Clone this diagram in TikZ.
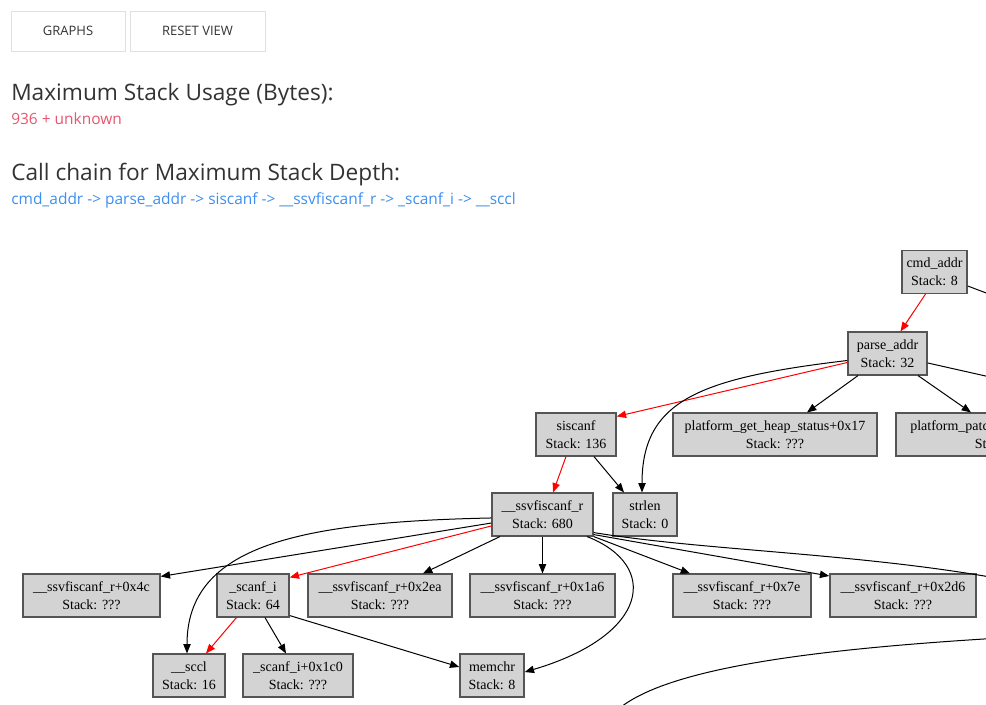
\documentclass[tikz,border=0pt]{standalone}
\usepackage{fontspec}
\usepackage{tikz}
\usetikzlibrary{arrows.meta, positioning, calc}
\setmainfont{Liberation Serif}
\newfontfamily\uifont{Open Sans}
\definecolor{cgFill}{HTML}{D3D3D3}
\definecolor{cgLine}{HTML}{555555}
\definecolor{cgHot}{HTML}{FF0000}
\definecolor{cgText}{HTML}{333333}
\definecolor{cgUnknown}{HTML}{E8556D}
\definecolor{cgChain}{HTML}{3D8EF0}
\definecolor{cgBtn}{HTML}{E0E0E0}
\tikzset{
  fn/.style={
    draw=cgLine, fill=cgFill, line width=1.1pt, align=center,
    minimum height=32pt, inner xsep=2pt, inner ysep=2pt,
    font=\fontsize{10.5}{13.5}\selectfont
  },
  btn/.style={draw=cgBtn, line width=0.75pt, minimum height=30pt,
    font=\uifont\fontsize{9.75}{12}\selectfont, text=cgText},
  heading/.style={anchor=base west, inner sep=0pt, text=cgText,
    font=\uifont\fontsize{17}{20}\selectfont},
  subline/.style={anchor=base west, inner sep=0pt,
    font=\uifont\fontsize{11.6}{14}\selectfont},
  call/.style={-{Triangle[length=7pt, width=5.5pt]}, line width=0.75pt, black},
  hotcall/.style={call, cgHot}
}

\begin{document}
\begin{tikzpicture}[x=0.75pt, y=-0.75pt]
  \useasboundingbox (0,0) rectangle (986,704);
  \clip (0,0) rectangle (986,704);

  % page header
  \node[btn, minimum width=85.5pt] (graphsBtn) at (68,31) {GRAPHS};
  \node[btn, minimum width=101.25pt] (resetBtn) at (197.5,31) {RESET VIEW};
  \node[heading] (usageHead) at (11,100) {Maximum Stack Usage (Bytes):};
  \node[subline, text=cgUnknown] (usageVal) at (11,124) {936 + unknown};
  \node[heading] (chainHead) at (11,180) {Call chain for Maximum Stack Depth:};
  \node[subline, text=cgChain] (chainVal) at (11,204)
    {cmd\_addr -> parse\_addr -> siscanf -> \_\_ssvfiscanf\_r -> \_scanf\_i -> \_\_sccl};

  % call graph
  \node[fn, minimum width=48.75pt] (cmdAddr) at (934.5,272) {cmd\_addr\\Stack: 8};
  \node[fn, minimum width=59.25pt] (parseAddr) at (887.5,353.5) {parse\_addr\\Stack: 32};
  \node[fn, minimum width=60pt] (siscanf) at (576,434.5) {siscanf\\Stack: 136};
  \node[fn, minimum width=153pt] (heapStat) at (775,434.5) {platform\_get\_heap\_status+0x17\\Stack: ???};
  \node[fn, minimum width=162pt] (patchFn) at (1004,434.5) {platform\_patch\_init\_table+0x1a4\\Stack: ???};
  \node[fn, minimum width=48pt] (strlenFn) at (645,514.5) {strlen\\Stack: 0};
  \node[fn, minimum width=75.75pt] (ssvf) at (542.5,514.5) {\_\_ssvfiscanf\_r\\Stack: 680};
  \node[fn, minimum width=54pt] (scanfI) at (253,595.5) {\_scanf\_i\\Stack: 64};
  \foreach \nm/\cx/\bw/\off in {
    x4c/91.5/102.75/0x4c,
    x2ea/380/108/0x2ea,
    x1a6/542.5/108.75/0x1a6,
    x7e/742/103.5/0x7e,
    x2d6/903/109.5/0x2d6}{
    \node[fn, minimum width=\bw pt] (\nm) at (\cx,595.5) {\_\_ssvfiscanf\_r+\off\\Stack: ???};
  }
  \node[fn, minimum width=54pt] (sccl) at (189,675.5) {\_\_sccl\\Stack: 16};
  \node[fn, minimum width=82.5pt] (scanfX) at (298,675.5) {\_scanf\_i+0x1c0\\Stack: ???};
  \node[fn, minimum width=48pt] (memchr) at (492,675.5) {memchr\\Stack: 8};

  % ends outside the view
  \coordinate (cmdOut) at (1010,302);
  \coordinate (parseOut) at (1010,381.5);
  \coordinate (ssvfOut) at (996,578);
  \coordinate (farIn) at (1000,638);
  \coordinate (farOut) at (615,712);

  \draw[hotcall] ([xshift=-6.75pt]cmdAddr.south) -- ([xshift=9.75pt]parseAddr.north);
  \draw[line width=0.75pt] ([yshift=-10.5pt]cmdAddr.east) -- (cmdOut);
  \draw[line width=0.75pt] ([yshift=-7.1pt]parseAddr.east) -- (parseOut);
  \draw[hotcall] ([yshift=-6.75pt]parseAddr.west) -- ([yshift=-3pt]siscanf.north east);
  \draw[call] ([yshift=-5.25pt]parseAddr.west) .. controls (700,378) and (642,400) .. ([xshift=-2.25pt]strlenFn.north);
  \draw[call] ([xshift=-22.1pt]parseAddr.south) -- ([xshift=24pt]heapStat.north);
  \draw[call] ([xshift=22.9pt]parseAddr.south) -- ([xshift=-24.75pt]patchFn.north);
  \draw[hotcall] ([xshift=-7.5pt]siscanf.south) -- ([xshift=7.9pt]ssvf.north);
  \draw[call] ([xshift=13.5pt]siscanf.south) -- ([xshift=-15.75pt]strlenFn.north);
  \draw[call] ([yshift=-6.4pt]ssvf.west) -- ([yshift=-2.25pt]x4c.north east);
  \draw[call] ([yshift=-2.6pt]ssvf.west) .. controls (300,522) and (187,545) .. ([xshift=-1.5pt]sccl.north);
  \draw[hotcall] ([yshift=-8.6pt]ssvf.west) -- ([yshift=-3pt]scanfI.north east);
  \draw[call] ([xshift=-31.9pt]ssvf.south) -- ([xshift=32.25pt]x2ea.north);
  \draw[call] (ssvf.south) -- (x1a6.north);
  \draw[call] ([xshift=33.4pt]ssvf.south) .. controls (660,565) and (650,635) .. ([yshift=2.6pt]memchr.east);
  \draw[call] (ssvf.south east) -- ([xshift=-39pt]x7e.north);
  \draw[call] ([yshift=1.5pt]ssvf.south east) -- ([yshift=-1.9pt]x2d6.north west);
  \draw[call] ([yshift=3pt]ssvf.south east) .. controls (700,550) and (850,553) .. (ssvfOut);
  \draw[hotcall] ([xshift=-12.4pt]scanfI.south) -- ([xshift=12.75pt]sccl.north);
  \draw[call] ([xshift=9pt]scanfI.south) -- ([xshift=-9pt]scanfX.north);
  \draw[call] ([yshift=1.5pt]scanfI.south east) -- ([yshift=6.4pt]memchr.west);
  \draw[line width=0.75pt] (farIn) .. controls (800,650) and (660,670) .. (farOut);
\end{tikzpicture}
\end{document}
